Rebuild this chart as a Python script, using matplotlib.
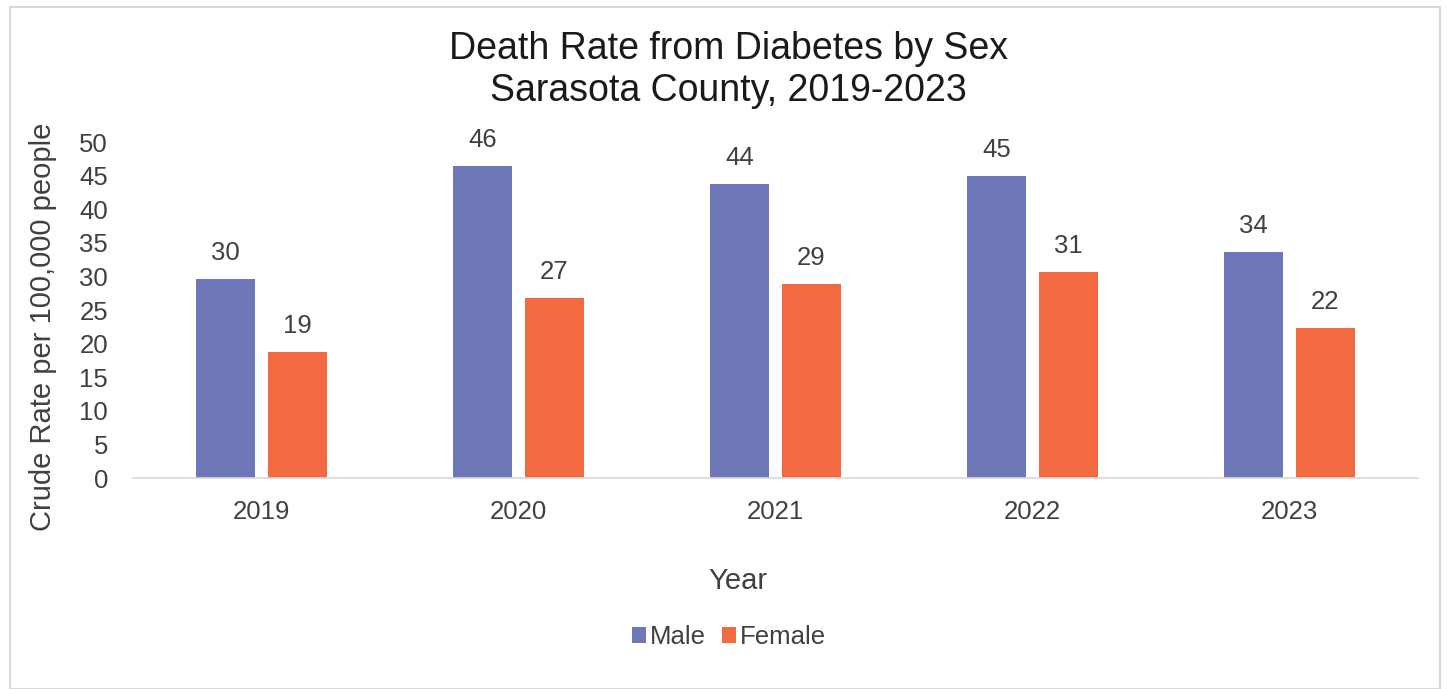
import matplotlib as mpl
mpl.use('Agg')
import matplotlib.pyplot as plt
import numpy as np
from matplotlib.patches import Rectangle

# crude death rate from diabetes per 100,000, by sex
years = ['2019', '2020', '2021', '2022', '2023']
male = [29.6, 46.4, 43.8, 44.9, 33.7]
female = [18.8, 26.8, 28.9, 30.7, 22.3]

male_color = '#6E78B9'
female_color = '#F26A42'
text_color = '#404040'

plt.rcParams['font.family'] = ['Liberation Sans', 'DejaVu Sans']

fig = plt.figure(figsize=(14.48, 6.89), dpi=100)
ax = fig.add_axes([133/1448, 1 - 478/689, (1418 - 133)/1448, (478 - 142)/689])

x = np.arange(len(years))
w = 0.226
off = 0.14
bm = ax.bar(x - off, male, w, color=male_color, label='Male')
bf = ax.bar(x + off, female, w, color=female_color, label='Female')

for bars, vals in ((bm, male), (bf, female)):
    for b, v in zip(bars, vals):
        ax.annotate(f'{v:.0f}', (b.get_x() + b.get_width()/2, v),
                    xytext=(0, 10), textcoords='offset points',
                    ha='center', va='bottom', fontsize=18.5, color=text_color)

ax.set_xlim(-0.5, len(years) - 0.5)
ax.set_ylim(0, 50)
ax.set_yticks(range(0, 51, 5))
ax.set_xticks(x)
ax.set_xticklabels(years)
ax.tick_params(axis='both', length=0, labelsize=18.5, colors=text_color)
ax.tick_params(axis='x', pad=16)
ax.tick_params(axis='y', pad=18)
for s in ('top', 'right', 'left'):
    ax.spines[s].set_visible(False)
ax.spines['bottom'].set_color('#d9d9d9')
ax.spines['bottom'].set_linewidth(1.2)

ax.set_xlabel('Year', fontsize=21, color=text_color, labelpad=31)
ax.xaxis.label.set_x(0.471)
ax.set_ylabel('Crude Rate per 100,000 people', fontsize=21, color=text_color, labelpad=16)
ax.yaxis.label.set_y(0.45)

fig.text(728/1448, 1 - 70/689, 'Death Rate from Diabetes by Sex\nSarasota County, 2019-2023',
         ha='center', va='center', fontsize=27, color='#1a1a1a', linespacing=1.2)

fig.legend(handles=[bm, bf], loc='center', bbox_to_anchor=(729/1448, 1 - 637/689),
           ncol=2, frameon=False, fontsize=18.5, handlelength=0.55, handleheight=0.55,
           handletextpad=0.15, columnspacing=0.6, labelcolor=text_color)

# light frame around the chart
fig.patches.append(Rectangle((10/1448, 0), (1440 - 10)/1448, 1 - 7/689,
                             transform=fig.transFigure, fill=False,
                             edgecolor='#d9d9d9', linewidth=1.5))

fig.savefig('out.png', dpi=100)
